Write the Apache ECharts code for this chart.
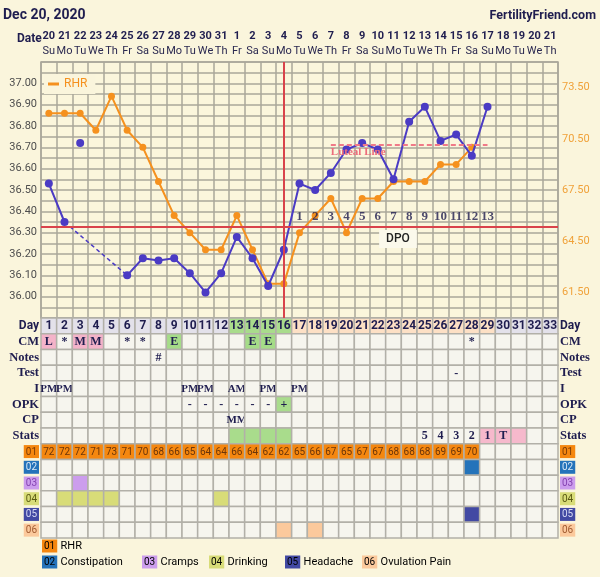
<!DOCTYPE html>
<html><head><meta charset="utf-8">
<script src="https://cdn.jsdelivr.net/npm/echarts@6/dist/echarts.min.js"></script>
<style>html,body{margin:0;padding:0;background:#faf5dc;}#c{width:600px;height:577px;}</style>
</head><body><div id="c"></div>
<script>
// ---------- DATA ----------
const dates = ['20','21','22','23','24','25','26','27','28','29','30','31','1','2','3','4','5','6','7','8','9','10','11','12','13','14','15','16','17','18','19','20','21'];
const weekdays = ['Su','Mo','Tu','We','Th','Fr','Sa','Su','Mo','Tu','We','Th','Fr','Sa','Su','Mo','Tu','We','Th','Fr','Sa','Su','Mo','Tu','We','Th','Fr','Sa','Su','Mo','Tu','We','Th'];
const cycleDays = ['1','2','3','4','5','6','7','8','9','10','11','12','13','14','15','16','17','18','19','20','21','22','23','24','25','26','27','28','29','30','31','32','33'];
const temps = [36.53,36.35,null,null,null,36.10,36.18,36.17,36.18,36.11,36.02,36.11,36.28,36.18,36.05,36.22,36.53,36.50,36.58,36.69,36.72,36.69,36.55,36.82,36.89,36.73,36.76,36.66,36.89];
const discardedTemps = [null,null,36.72];
const rhr = [72,72,72,71,73,71,70,68,66,65,64,64,66,64,62,62,65,66,67,65,67,67,68,68,68,69,69,70];
const coverline = 36.33;
const ovulationDay = 16;
const lutealLine = {value:36.71, fromDay:19, toDay:29};
const dpo = [1,2,3,4,5,6,7,8,9,10,11,12,13];
const dpoFirstDay = 17;
const tempTicks = ['36.00','36.10','36.20','36.30','36.40','36.50','36.60','36.70','36.80','36.90','37.00'];
const rhrTicks = ['61.50','64.50','67.50','70.50','73.50'];
const rowNames = ['Day','CM','Notes','Test','I','OPK','CP','Stats','01','02','03','04','05','06'];
const cm        = {1:'L',2:'*',3:'M',4:'M',6:'*',7:'*',9:'E',14:'E',15:'E',28:'*'};
const notes     = {8:'#'};
const tests     = {27:'-'};
const intercourse = {1:'PM',2:'PM',10:'PM',11:'PM',13:'AM',15:'PM',17:'PM'};
const opk       = {10:'-',11:'-',12:'-',13:'-',14:'-',15:'-',16:'+'};
const cp        = {13:'MM'};
const stats     = {25:'5',26:'4',27:'3',28:'2',29:'1',30:'T'};
const fertileDays = [13,14,15,16];
const lutealDays = [17,29];
const statsMarked = [29,30,31];
const symptomNames = ['RHR','Constipation','Cramps','Drinking','Headache','Ovulation Pain'];
const constipation = [28];
const cramps = [3];
const drinking = [2,3,4,5,12];
const headache = [28];
const ovulationPain = [16,18];

// ---------- STYLE ----------
const NAVY='#1f1d4f', BLUE='#4b3bc4', ORANGE='#f5911e', RED='#d9434b', GRID='#aaa79a', BG='#faf5dc';
const CELL='#f6f5ee', CELLLINE='#b2b0a8';
const boxStyle = {
  '01':{bg:'#f5870f',fg:'#7a3a05'}, '02':{bg:'#2473ba',fg:'#d8e8f6'}, '03':{bg:'#cc9ded',fg:'#8442b0'},
  '04':{bg:'#d8dc78',fg:'#5a5a12'}, '05':{bg:'#4249a3',fg:'#d8dbf4'}, '06':{bg:'#fbc99c',fg:'#a05a30'}
};
const cmFill = {L:'#f4b3c9',M:'#f4b3c9',E:'#a5dc88'};
const GREEN='#a9dc8c', PEACH='#fde0c5', LAV='#e3e1ea', PINK='#f6b9cc';

const keys = cycleDays.map(d=>'d'+d);
const N = keys.length;

// gap bridging (dashed) series derived from temps
const bridge = new Array(N).fill(null);
for (let i=1;i<temps.length;i++){
  if (temps[i]===null && temps[i-1]!==null){
    let j=i; while(j<temps.length && temps[j]===null) j++;
    if (j<temps.length){ bridge[i-1]=temps[i-1]; bridge[j]=temps[j]; }
  }
}
const tempData = keys.map((k,i)=> i<temps.length ? temps[i] : null);
const discData = discardedTemps.map((v,i)=> v===null?null:[keys[i],v]).filter(Boolean);
const rhrData = keys.map((k,i)=> i<rhr.length ? rhr[i] : null);
const dpoY = 36.375;
const dpoData = dpo.map((n,i)=>[keys[dpoFirstDay-1+i], dpoY, n]);

// ---------- TABLE CELLS ----------
const serif = 'bold 12px "Liberation Serif"';
const cells = [];
for (let r=0;r<rowNames.length;r++){
  for (let c=0;c<N;c++){
    const day=c+1; let text='', fill=CELL, font=serif, color=NAVY;
    const row=rowNames[r];
    if (row==='Day'){
      text=cycleDays[c]; font='bold 12px Roboto';
      fill = fertileDays.includes(day)?GREEN:(day>=lutealDays[0]&&day<=lutealDays[1]?PEACH:LAV);
    } else if (row==='CM'){ text=cm[day]||''; if(cmFill[text]) fill=cmFill[text]; }
    else if (row==='Notes'){ text=notes[day]||''; }
    else if (row==='Test'){ text=tests[day]||''; }
    else if (row==='I'){ text=intercourse[day]||''; font='bold 11px "Liberation Serif"'; }
    else if (row==='OPK'){ text=opk[day]||''; if(text==='+') fill=GREEN; }
    else if (row==='CP'){ text=cp[day]||''; font='bold 11px "Liberation Serif"'; }
    else if (row==='Stats'){ text=stats[day]||''; if(fertileDays.includes(day)) fill=GREEN; if(statsMarked.includes(day)) fill=PINK; }
    else if (row==='01'){ if(c<rhr.length){ text=String(rhr[c]); fill=boxStyle['01'].bg; font='10px Roboto'; color='#6b3509'; } }
    else {
      const lists={'02':constipation,'03':cramps,'04':drinking,'05':headache,'06':ovulationPain};
      if (lists[row].includes(day)) fill=boxStyle[row].bg;
    }
    cells.push({value:[c,r], text, fill, font, color});
  }
}

// ---------- RICH LABELS ----------
const rich = {
  day:{fontFamily:'Roboto',fontWeight:'bold',fontSize:12,color:NAVY},
  lab:{fontFamily:'Liberation Serif',fontWeight:'bold',fontSize:12.5,color:NAVY}
};
Object.keys(boxStyle).forEach(k=>{
  rich['b'+k]={backgroundColor:boxStyle[k].bg,color:boxStyle[k].fg,fontFamily:'Roboto',fontSize:10,padding:[2,2,1,2]};
});
function rowLabel(v){
  if (boxStyle[v]) return '{b'+v+'|'+v+'}';
  if (v==='Day') return '{day|Day}';
  return '{lab|'+v+'}';
}

// bottom legend
const legendPos = [[42,546],[42,562],[142,562],[209,562],[285,562],[362,562]];
const legendGraphics = symptomNames.map((name,i)=>{
  const code='0'+(i+1);
  return {type:'text', x:legendPos[i][0], y:legendPos[i][1], style:{
    text:'{b|'+code+'} {t|'+name+'}', verticalAlign:'middle',
    rich:{b:{backgroundColor:boxStyle[code].bg,color:boxStyle[code].fg,fontFamily:'Roboto',fontSize:10,padding:[2,2,1,2]},
          t:{fontFamily:'Roboto',fontSize:11,color:'#333'}}
  }};
});

const chart = echarts.init(document.getElementById('c'));
chart.setOption({
  animation:false,
  backgroundColor:BG,
  legend:{data:['RHR'], left:44, top:74, backgroundColor:BG, icon:'rect', itemWidth:11, itemHeight:3, itemGap:4,
    padding:[4,8,4,4], textStyle:{color:ORANGE,fontSize:12,fontFamily:'Roboto'}, selectedMode:false},
  graphic:[
    {type:'text', x:3, y:15, style:{text:'Dec 20, 2020', font:'bold 14px Roboto', fill:NAVY, verticalAlign:'middle'}},
    {type:'text', x:596, y:16, style:{text:'FertilityFriend.com', font:'bold 12.5px Roboto', fill:NAVY, align:'right', verticalAlign:'middle'}},
    {type:'text', x:17, y:39, style:{text:'Date', font:'bold 12px Roboto', fill:NAVY, verticalAlign:'middle'}},
    {type:'text', x:398, y:239, z:10, style:{text:'DPO', font:'500 12px Roboto', fill:'#222', align:'center', verticalAlign:'middle', backgroundColor:'#fbf9ec', padding:[3,7]}},
    ...legendGraphics
  ],
  grid:[
    {left:41, width:517, top:62, height:256, show:true, borderColor:GRID, borderWidth:1.5, backgroundColor:'#fbf6dc'},
    {left:41, width:517, top:318, height:220}
  ],
  xAxis:[
    {type:'category', gridIndex:0, position:'top', data:keys, boundaryGap:true,
      axisLine:{show:false}, axisTick:{show:false},
      splitLine:{show:true, interval:0, lineStyle:{color:GRID,width:1.5}},
      axisLabel:{interval:0, margin:3, lineHeight:15,
        formatter:(v,i)=>'{d|'+dates[i]+'}\n{w|'+weekdays[i]+'}',
        rich:{d:{fontFamily:'Roboto',fontWeight:'bold',fontSize:11,color:NAVY,lineHeight:15},
              w:{fontFamily:'Roboto',fontSize:11,color:'#2a2850',lineHeight:15}}}},
    {type:'category', gridIndex:1, data:keys, show:false}
  ],
  yAxis:[
    {type:'value', gridIndex:0, min:35.9, max:37.1, interval:0.05, position:'left',
      axisLine:{show:false}, axisTick:{show:false},
      splitLine:{show:true, lineStyle:{color:GRID,width:1.5}},
      axisLabel:{margin:4, fontSize:11, fontFamily:'Roboto', color:'#4d4d4d',
        formatter:v=>{const s=v.toFixed(2); return tempTicks.includes(s)?s:'';}}},
    {type:'value', gridIndex:0, min:60, max:75, interval:1.5, position:'right',
      axisLine:{show:false}, axisTick:{show:false}, splitLine:{show:false},
      axisLabel:{margin:4, fontSize:11, fontFamily:'Roboto', color:'#f0a23a',
        formatter:v=>{const s=v.toFixed(2); return rhrTicks.includes(s)?s:'';}}},
    {type:'category', gridIndex:1, data:rowNames, inverse:true, position:'left',
      axisLine:{show:false}, axisTick:{show:false},
      axisLabel:{interval:0, margin:2, formatter:rowLabel, rich}},
    {type:'category', gridIndex:1, data:rowNames, inverse:true, position:'right',
      axisLine:{show:false}, axisTick:{show:false},
      axisLabel:{interval:0, margin:2, formatter:rowLabel, rich}}
  ],
  series:[
    {type:'custom', xAxisIndex:1, yAxisIndex:2, data:cells, silent:true,
      renderItem:(params, api)=>{
        const it=cells[params.dataIndex];
        const p=api.coord([api.value(0), api.value(1)]);
        const s=api.size([1,1]);
        return {type:'group', children:[
          {type:'rect', shape:{x:p[0]-s[0]/2, y:p[1]-s[1]/2, width:s[0], height:s[1]},
            style:{fill:it.fill, stroke:CELLLINE, lineWidth:1.5}},
          {type:'text', style:{text:it.text, x:p[0], y:p[1]+0.5, align:'center', verticalAlign:'middle', font:it.font, fill:it.color}}
        ]};
      }},
    {name:'RHR', type:'line', xAxisIndex:0, yAxisIndex:1, data:rhrData, symbol:'circle', symbolSize:7,
      lineStyle:{color:ORANGE,width:2}, itemStyle:{color:ORANGE}, z:3},
    {name:'Temp', type:'line', xAxisIndex:0, yAxisIndex:0, data:tempData, connectNulls:false, symbol:'circle', symbolSize:8,
      lineStyle:{color:BLUE,width:2}, itemStyle:{color:BLUE}, z:4,
      markLine:{silent:true, symbol:'none', animation:false, data:[
        {yAxis:coverline, lineStyle:{color:RED,width:2,type:'solid'}, label:{show:false}},
        {xAxis:keys[ovulationDay-1], lineStyle:{color:RED,width:2,type:'solid'}, label:{show:false}},
        [{coord:[keys[lutealLine.fromDay-1], lutealLine.value]},{coord:[keys[lutealLine.toDay-1], lutealLine.value]}]
      ].map((d,i)=> i===2 ? [{...d[0], lineStyle:{color:'#f07a88',width:2,type:[5,3]},
          label:{show:true, position:'insideStartBottom', formatter:'Luteal Line', distance:[0,1],
            color:'#ec6d7c', fontFamily:'Liberation Serif', fontWeight:'bold', fontSize:11}}, d[1]] : d)}},
    {type:'line', xAxisIndex:0, yAxisIndex:0, data:bridge, connectNulls:true, symbol:'none',
      lineStyle:{color:BLUE,width:1.5,type:[4,3]}, z:4},
    {type:'scatter', xAxisIndex:0, yAxisIndex:0, data:discData, symbolSize:8, itemStyle:{color:BLUE,opacity:1}, z:4},
    {type:'scatter', xAxisIndex:0, yAxisIndex:0, data:dpoData, symbolSize:1, itemStyle:{color:'rgba(0,0,0,0)'}, z:5,
      label:{show:true, position:'inside', formatter:p=>p.value[2], fontFamily:'Liberation Serif', fontWeight:'bold', fontSize:13, color:NAVY}}
  ]
});
</script></body></html>
